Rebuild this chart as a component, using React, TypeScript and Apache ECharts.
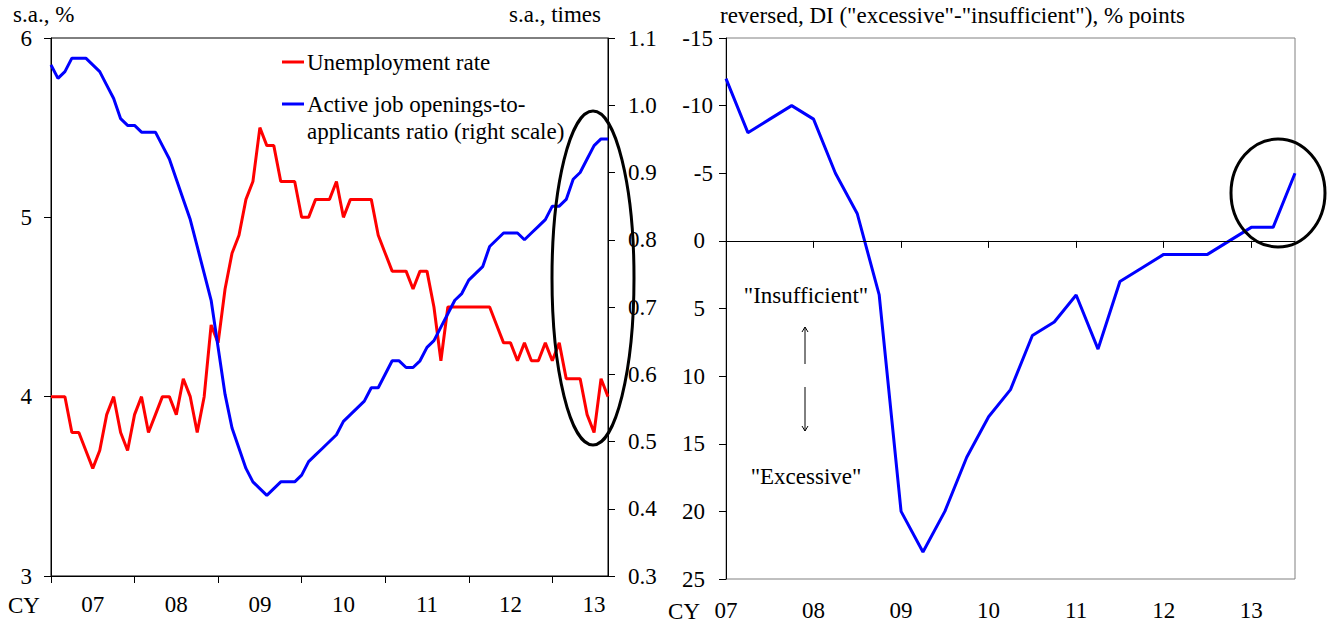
import React, { useEffect, useRef } from "react";
import * as echarts from "echarts";

// ---- Data ----
const yearLabels = ["07", "08", "09", "10", "11", "12", "13"];
const monthsInLastYear = 9; // Jan–Sep 2013

// Unemployment rate (s.a., %), monthly Jan 2007 – Sep 2013
const unemployment = [
  4.0, 4.0, 4.0, 3.8, 3.8, 3.7, 3.6, 3.7, 3.9, 4.0, 3.8, 3.7,
  3.9, 4.0, 3.8, 3.9, 4.0, 4.0, 3.9, 4.1, 4.0, 3.8, 4.0, 4.4,
  4.3, 4.6, 4.8, 4.9, 5.1, 5.2, 5.5, 5.4, 5.4, 5.2, 5.2, 5.2,
  5.0, 5.0, 5.1, 5.1, 5.1, 5.2, 5.0, 5.1, 5.1, 5.1, 5.1, 4.9,
  4.8, 4.7, 4.7, 4.7, 4.6, 4.7, 4.7, 4.5, 4.2, 4.5, 4.5, 4.5,
  4.5, 4.5, 4.5, 4.5, 4.4, 4.3, 4.3, 4.2, 4.3, 4.2, 4.2, 4.3,
  4.2, 4.3, 4.1, 4.1, 4.1, 3.9, 3.8, 4.1, 4.0,
];

// Active job openings-to-applicants ratio (s.a., times), monthly
const jobRatio = [
  1.06, 1.04, 1.05, 1.07, 1.07, 1.07, 1.06, 1.05, 1.03, 1.01, 0.98, 0.97,
  0.97, 0.96, 0.96, 0.96, 0.94, 0.92, 0.89, 0.86, 0.83, 0.79, 0.75, 0.71,
  0.64, 0.57, 0.52, 0.49, 0.46, 0.44, 0.43, 0.42, 0.43, 0.44, 0.44, 0.44,
  0.45, 0.47, 0.48, 0.49, 0.50, 0.51, 0.53, 0.54, 0.55, 0.56, 0.58, 0.58,
  0.60, 0.62, 0.62, 0.61, 0.61, 0.62, 0.64, 0.65, 0.67, 0.69, 0.71, 0.72,
  0.74, 0.75, 0.76, 0.79, 0.80, 0.81, 0.81, 0.81, 0.80, 0.81, 0.82, 0.83,
  0.85, 0.85, 0.86, 0.89, 0.90, 0.92, 0.94, 0.95, 0.95,
];

// Employment conditions DI (reversed), quarterly 2007Q1 – 2013Q3
const employmentDI = [
  -12, -8, -9, -10,
  -9, -5, -2, 4,
  20, 23, 20, 16,
  13, 11, 7, 6,
  4, 8, 3, 2,
  1, 1, 1, 0,
  -1, -1, -5,
];

const leftTicks = [3, 4, 5, 6];
const rightTicks = [0.3, 0.4, 0.5, 0.6, 0.7, 0.8, 0.9, 1.0, 1.1];
const diTicks = [-15, -10, -5, 0, 5, 10, 15, 20, 25];

// categories built from year labels
const monthCats: string[] = [];
yearLabels.forEach((y, yi) => {
  const n = yi === yearLabels.length - 1 ? monthsInLastYear : 12;
  for (let m = 1; m <= n; m++) monthCats.push(y + "-" + String(m).padStart(2, "0"));
});
const quarterCats: string[] = [];
yearLabels.forEach((y, yi) => {
  const n = yi === yearLabels.length - 1 ? 3 : 4;
  for (let q = 1; q <= n; q++) quarterCats.push(y + "Q" + q);
});

const FONT = "'Liberation Serif', 'Times New Roman', serif";
const FS = 23;
const TXT = { fontFamily: FONT, fontSize: FS, color: "#000" };

export default function App() {
  const ref = useRef<HTMLDivElement>(null);
  useEffect(() => {
    if (!ref.current) return;
    const chart = echarts.init(ref.current, undefined, { renderer: "svg" });
    const axisLine = { show: true, lineStyle: { color: "#000", width: 1 } };
    const tick = { show: true, length: 7, inside: false, lineStyle: { color: "#000", width: 1 } };

    const arrowLines = (x: number, y1: number, y2: number, up: boolean) => {
      const tipY = up ? y1 : y2;
      const d = up ? 5 : -5;
      return [
        { type: "line", shape: { x1: x, y1, x2: x, y2 }, style: { stroke: "#000", lineWidth: 1 } },
        { type: "line", shape: { x1: x - 3, y1: tipY + d, x2: x, y2: tipY }, style: { stroke: "#000", lineWidth: 1 } },
        { type: "line", shape: { x1: x + 3, y1: tipY + d, x2: x, y2: tipY }, style: { stroke: "#000", lineWidth: 1 } },
      ];
    };
    const font = `${FS}px ${FONT}`;

    chart.setOption({
      animation: false,
      backgroundColor: "#fff",
      grid: [
        { left: 51, top: 38, width: 557, height: 538, show: true, borderColor: "#000", borderWidth: 1, backgroundColor: "transparent" },
        { left: 726, top: 38, width: 569, height: 541, show: true, borderColor: "#808080", borderWidth: 1, backgroundColor: "transparent" },
      ],
      xAxis: [
        {
          type: "category", gridIndex: 0, data: monthCats, boundaryGap: false,
          axisLine, axisTick: { ...tick, interval: (i: number) => i % 12 === 0 },
          axisLabel: { ...TXT, margin: 17, interval: (i: number) => i % 12 === 6, formatter: (v: string) => v.slice(0, 2) },
          splitLine: { show: false },
        },
        {
          type: "category", gridIndex: 1, data: quarterCats, boundaryGap: false,
          axisLine, axisTick: { ...tick, interval: (i: number) => i % 4 === 0 },
          axisLabel: { ...TXT, margin: 20, interval: (i: number) => i % 4 === 0, formatter: (v: string) => v.slice(0, 2) },
          splitLine: { show: false },
        },
      ],
      yAxis: [
        {
          type: "value", gridIndex: 0, min: leftTicks[0], max: leftTicks[leftTicks.length - 1], interval: 1,
          axisLine, axisTick: tick, splitLine: { show: false },
          axisLabel: { ...TXT, margin: 19 },
        },
        {
          type: "value", gridIndex: 0, position: "right", min: rightTicks[0], max: rightTicks[rightTicks.length - 1], interval: 0.1,
          axisLine, axisTick: tick, splitLine: { show: false },
          axisLabel: { ...TXT, margin: 20, formatter: (v: number) => v.toFixed(1) },
        },
        {
          type: "value", gridIndex: 1, inverse: true, min: diTicks[0], max: diTicks[diTicks.length - 1], interval: 5,
          axisLine, axisTick: tick, splitLine: { show: false },
          axisLabel: {
            ...TXT, margin: 13,
            formatter: (v: number) => (v < 0 ? `{n|${v}}` : `{p|${v}}`),
            rich: {
              n: { fontFamily: FONT, fontSize: FS, color: "#000" },
              p: { fontFamily: FONT, fontSize: FS, color: "#000", padding: [0, 8, 0, 0] },
            },
          },
        },
      ],
      series: [
        {
          name: "Unemployment rate", type: "line", xAxisIndex: 0, yAxisIndex: 0, data: unemployment,
          symbol: "none", lineStyle: { color: "#ff0000", width: 3 }, itemStyle: { color: "#ff0000" }, z: 3,
        },
        {
          name: "Active job openings-to-applicants ratio (right scale)", type: "line", xAxisIndex: 0, yAxisIndex: 1, data: jobRatio,
          symbol: "none", lineStyle: { color: "#0000ff", width: 3 }, itemStyle: { color: "#0000ff" }, z: 4,
        },
        {
          name: "DI", type: "line", xAxisIndex: 1, yAxisIndex: 2, data: employmentDI,
          symbol: "none", lineStyle: { color: "#0000ff", width: 3 }, itemStyle: { color: "#0000ff" }, z: 4,
          markLine: {
            silent: true, symbol: ["none", "none"], label: { show: false },
            lineStyle: { color: "#000", width: 1, type: "solid" },
            data: [{ yAxis: 0 }],
          },
        },
      ],
      graphic: [
        { type: "text", x: 13, y: 14, style: { text: "s.a., %", font, fill: "#000", textVerticalAlign: "middle" } },
        { type: "text", x: 601, y: 14, style: { text: "s.a., times", font, fill: "#000", textAlign: "right", textVerticalAlign: "middle" } },
        { type: "text", x: 720, y: 15, style: { text: 'reversed, DI ("excessive"-"insufficient"), % points', font, fill: "#000", textVerticalAlign: "middle" } },
        { type: "text", x: 8, y: 605, style: { text: "CY", font, fill: "#000", textVerticalAlign: "middle" } },
        { type: "text", x: 700, y: 611, style: { text: "CY", font, fill: "#000", textAlign: "right", textVerticalAlign: "middle" } },
        // legend
        { type: "line", shape: { x1: 282, y1: 62, x2: 304, y2: 62 }, style: { stroke: "#ff0000", lineWidth: 3 } },
        { type: "text", x: 307, y: 62, style: { text: "Unemployment rate", font, fill: "#000", textVerticalAlign: "middle" } },
        { type: "line", shape: { x1: 282, y1: 104, x2: 304, y2: 104 }, style: { stroke: "#0000ff", lineWidth: 3 } },
        { type: "text", x: 307, y: 104, style: { text: "Active job openings-to-", font, fill: "#000", textVerticalAlign: "middle" } },
        { type: "text", x: 307, y: 131, style: { text: "applicants ratio (right scale)", font, fill: "#000", textVerticalAlign: "middle" } },
        // ellipses
        { type: "ellipse", shape: { cx: 593, cy: 278, rx: 41, ry: 167 }, style: { fill: "none", stroke: "#000", lineWidth: 3 }, z: 10 },
        { type: "ellipse", shape: { cx: 1278, cy: 193, rx: 47, ry: 54 }, style: { fill: "none", stroke: "#000", lineWidth: 3 }, z: 10 },
        // annotations
        { type: "text", x: 806, y: 295, style: { text: '"Insufficient"', font, fill: "#000", textAlign: "center", textVerticalAlign: "middle" } },
        { type: "text", x: 806, y: 476, style: { text: '"Excessive"', font, fill: "#000", textAlign: "center", textVerticalAlign: "middle" } },
        ...arrowLines(805, 327, 364, true),
        ...arrowLines(805, 387, 431, false),
      ],
    });
    return () => chart.dispose();
  }, []);
  return <div ref={ref} style={{ position: "fixed", left: 0, top: 0, width: 1330, height: 626 }} />;
}
